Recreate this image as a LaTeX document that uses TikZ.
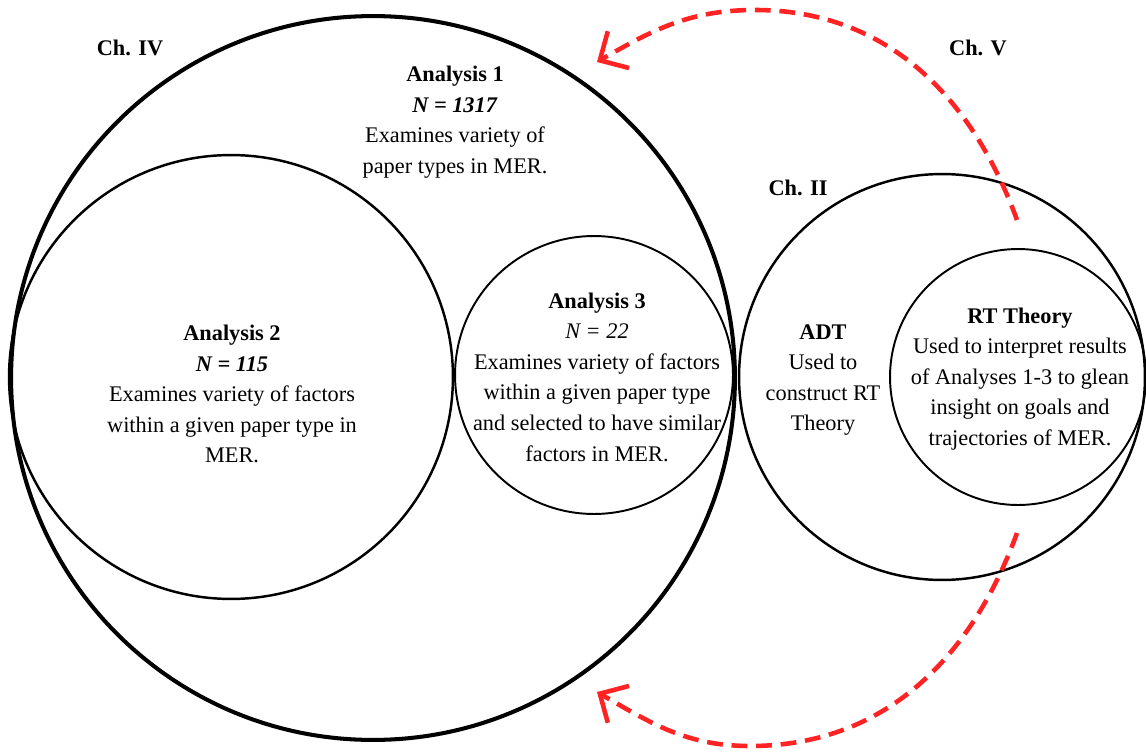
\documentclass[tikz,border=0pt]{standalone}
\usepackage{fontspec}
\setmainfont{LiberationSerif}[Extension=.ttf, UprightFont=*-Regular, BoldFont=*-Bold,
  ItalicFont=*-Italic, BoldItalicFont=*-BoldItalic]
\usetikzlibrary{arrows.meta}

\definecolor{dashred}{RGB}{255,35,35}
\tikzstyle{ring}  = [circle, draw=black, inner sep=0pt, outer sep=0pt]
\tikzstyle{wide}  = [ring, line width=2.3pt]
\tikzstyle{mid}   = [ring, line width=1.4pt]
\tikzstyle{slim}  = [ring, line width=1.1pt]
\tikzstyle{chap}  = [inner sep=0pt, font=\fontsize{12.7}{17.4}\selectfont\bfseries]
\tikzstyle{body}  = [inner sep=0pt, align=center, font=\fontsize{12.7}{17.4}\selectfont]
\tikzstyle{back}  = [draw=dashred, line width=2.6pt, dash pattern=on 9pt off 5pt,
                     -{Straight Barb[length=4.3mm, width=8.5mm]}]

\begin{document}
\begin{tikzpicture}[x=0.02cm, y=0.02cm]
  \useasboundingbox (0,0) rectangle (1146,752);

  % chapters and analyses
  \draw
    node[wide, minimum size=14.48cm] (ch4) at (373,374) {}
    node[mid,  minimum size=8.88cm]  (an2) at (231,375) {}
    node[slim, minimum size=5.56cm]  (an3) at (594,377) {}
    node[mid,  minimum size=8.12cm]  (ch2) at (942,375) {}
    node[slim, minimum size=5.12cm]  (rt)  at (1018,375) {};

  \draw
    node[chap] (ch4lbl) at (130,704) {Ch. IV}
    node[chap] (ch5lbl) at (978,704) {Ch. V}
    node[chap] (ch2lbl) at (798,564) {Ch. II};

  \draw
    node[body] (an1txt) at (455,630) {\textbf{Analysis 1}\\ \textbf{\textit{N = 1317}}\\ Examines variety of\\ paper types in MER.}
    node[body] (an2txt) at (232,358) {\textbf{Analysis 2}\\ \textbf{\textit{N = 115}}\\ Examines variety of factors\\ within a given paper type in\\ MER.}
    node[body] (an3txt) at (597,375) {\textbf{Analysis 3}\\ \textit{N = 22}\\ Examines variety of factors\\ within a given paper type\\ and selected to have similar\\ factors in MER.}
    node[body] (adttxt) at (823,372) {\textbf{ADT}\\ Used to\\ construct RT\\ Theory}
    node[body] (rttxt)  at (1020,373) {\textbf{RT Theory}\\ Used to interpret results\\ of Analyses 1-3 to glean\\ insight on goals and\\ trajectories of MER.};

  % feedback arrows
  \coordinate (up1) at (1017,532);
  \coordinate (up2) at (755,742);
  \coordinate (up3) at (597,690);
  \coordinate (dn1) at (1017,219);
  \coordinate (dn2) at (750,6);
  \coordinate (dn3) at (597,60);
  \draw[back] (up1) to[out=110, in=0] (up2) to[out=180, in=30] (up3);
  \draw[back] (dn1) to[out=-110, in=0] (dn2) to[out=180, in=-30] (dn3);
\end{tikzpicture}
\end{document}
